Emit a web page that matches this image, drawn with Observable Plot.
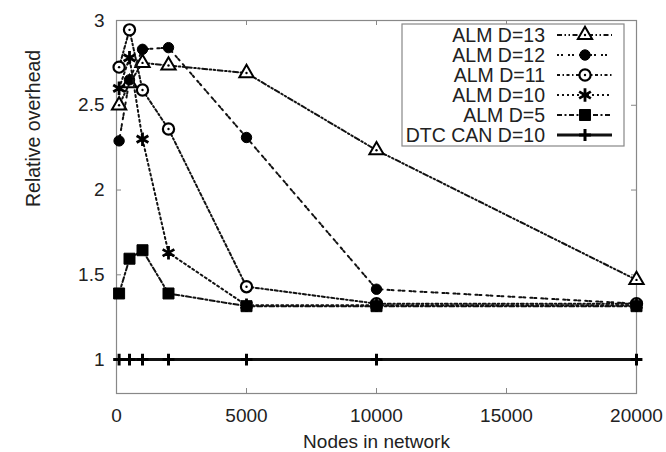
<!DOCTYPE html>
<html><head><meta charset="utf-8">
<script src="https://cdn.jsdelivr.net/npm/d3@7"></script>
<script src="https://cdn.jsdelivr.net/npm/@observablehq/plot@0.6"></script>
<style>
body{margin:0;background:#fff}
svg{font-family:"Liberation Sans",Arial,sans-serif}
</style>
</head><body><div id="chart"></div>
<script>
// ---- data ----
const nodes = [100, 500, 1000, 2000, 5000, 10000, 20000];
const seriesNames = ["ALM D=13", "ALM D=12", "ALM D=11", "ALM D=10", "ALM D=5", "DTC CAN D=10"];
const almD13 = [2.50, 2.63, 2.75, 2.735, 2.69, 2.235, 1.47];
const almD12 = [2.29, 2.65, 2.83, 2.84, 2.31, 1.415, 1.33];
const almD11 = [2.725, 2.945, 2.59, 2.36, 1.43, 1.33, 1.33];
const almD10 = [2.60, 2.78, 2.30, 1.63, 1.32, 1.32, 1.32];
const almD5  = [1.39, 1.595, 1.645, 1.39, 1.315, 1.315, 1.315];
const dtcCan = [1, 1, 1, 1, 1, 1, 1];
const seriesValues = [almD13, almD12, almD11, almD10, almD5, dtcCan];
const xTicks = [0, 5000, 10000, 15000, 20000];
const yTicks = [1, 1.5, 2, 2.5, 3];

// ---- styles ----
const styleOf = {
  "ALM D=13": {dash: "5,2.5,1.5,2.5,1.5,2.5", sw: 2, symbol: "triangle", r: 5.3, fill: "white", dotSw: 2, center: true},
  "ALM D=12": {dash: "2,2,2,5", sw: 2, symbol: "circle", r: 5.2, fill: "black", dotSw: 1, center: false},
  "ALM D=11": {dash: "3,2.5,1.5,2.5", sw: 2, symbol: "circle", r: 5.6, fill: "white", dotSw: 2.2, center: true},
  "ALM D=10": {dash: "2,3", sw: 2, symbol: "asterisk", r: 6.4, fill: "none", dotSw: 2.8, center: false},
  "ALM D=5":  {dash: "5,2.5,2,2.5", sw: 2, symbol: "square", r: 6.2, fill: "black", dotSw: 1, center: false},
  "DTC CAN D=10": {dash: null, sw: 3, symbol: "plus", r: 3.9, fill: "none", dotSw: 3, center: false}
};

const rows = seriesNames.flatMap((s, i) => nodes.map((n, j) => ({series: s, x: n, y: seriesValues[i][j]})));

const W = 666, H = 452;
const mL = 116, mR = 30, mT = 20, mB = 59;
const fw = W - mL - mR, fh = H - mT - mB;
const tickGray = "#888";

const marks = [
  Plot.frame({stroke: tickGray, strokeWidth: 1.2}),
  Plot.tickX(xTicks, {x: d => d, insetTop: fh - 5, stroke: tickGray}),
  Plot.tickX(xTicks, {x: d => d, insetBottom: fh - 5, stroke: tickGray}),
  Plot.tickY(yTicks, {y: d => d, insetRight: fw - 5, stroke: tickGray}),
  Plot.tickY(yTicks, {y: d => d, insetLeft: fw - 5, stroke: tickGray})
];
for (const s of seriesNames) {
  const st = styleOf[s];
  const data = rows.filter(d => d.series === s);
  marks.push(Plot.line(data, {x: "x", y: "y", stroke: "#111", strokeWidth: st.sw, strokeDasharray: st.dash}));
  marks.push(Plot.dot(data, {x: "x", y: "y", symbol: st.symbol, r: st.r, fill: st.fill, stroke: "#000", strokeWidth: st.dotSw}));
  if (st.center) marks.push(Plot.dot(data, {x: "x", y: "y", r: 1.2, fill: "#000"}));
}
marks.push(
  Plot.axisX(xTicks, {tickSize: 0, tickPadding: 15, tickFormat: d => String(d), fontSize: 19, fill: "#222", label: null}),
  Plot.axisY(yTicks, {tickSize: 0, tickPadding: 12, tickFormat: d => String(d), fontSize: 19, fill: "#222", label: null}),
  Plot.text(["Nodes in network"], {frameAnchor: "bottom", dy: 48, lineAnchor: "middle", fontSize: 19, fill: "#222"}),
  Plot.text(["Relative overhead"], {frameAnchor: "left", dx: -83, rotate: -90, lineAnchor: "middle", fontSize: 19.5, fill: "#222"})
);

const chart = Plot.plot({
  width: W, height: H,
  marginLeft: mL, marginRight: mR, marginTop: mT, marginBottom: mB,
  x: {domain: [0, 20000]},
  y: {domain: [0.8, 3]},
  style: {background: "white", fontFamily: '"Liberation Sans", Arial, sans-serif'},
  marks
});
document.getElementById("chart").appendChild(chart);

// ---- legend (inside plot, top right) ----
const svg = d3.select(chart);
const lg = svg.append("g").attr("class", "legend");
const bx = 402, by = 24, bw = 222, bh = 122;
lg.append("rect").attr("x", bx).attr("y", by).attr("width", bw).attr("height", bh)
  .attr("fill", "white").attr("stroke", tickGray).attr("stroke-width", 1.2);
const symType = {triangle: d3.symbolTriangle, circle: d3.symbolCircle, asterisk: d3.symbolAsterisk, square: d3.symbolSquare, plus: d3.symbolPlus};
seriesNames.forEach((s, i) => {
  const st = styleOf[s];
  const cy = 35 + i * 20;
  lg.append("text").attr("x", 545).attr("y", cy).attr("dy", "0.35em").attr("text-anchor", "end")
    .attr("font-size", 19.5).attr("fill", "#222").text(s);
  lg.append("line").attr("x1", 557).attr("x2", 612).attr("y1", cy).attr("y2", cy)
    .attr("stroke", "#111").attr("stroke-width", st.sw).attr("stroke-dasharray", st.dash);
  lg.append("path").attr("transform", `translate(585,${cy})`)
    .attr("d", d3.symbol(symType[st.symbol], Math.PI * st.r * st.r)())
    .attr("fill", st.fill).attr("stroke", "#000").attr("stroke-width", st.dotSw);
  if (st.center) lg.append("circle").attr("cx", 585).attr("cy", cy).attr("r", 1.2).attr("fill", "#000");
});
</script>
</body></html>
